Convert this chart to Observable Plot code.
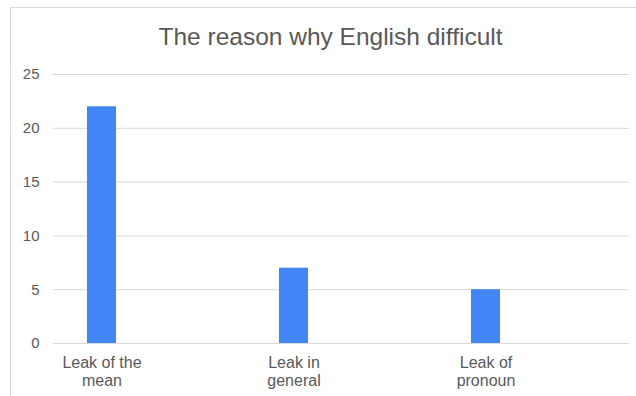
<!DOCTYPE html>
<html>
<head>
<meta charset="utf-8">
<script src="https://cdn.jsdelivr.net/npm/d3@7"></script>
<script src="https://cdn.jsdelivr.net/npm/@observablehq/plot@0.6"></script>
<style>
  html, body { margin: 0; padding: 0; background: #fff; overflow: hidden; width: 636px; height: 396px; }
  #border { position: absolute; left: 10px; top: 7px; width: 700px; height: 500px; border: 1px solid #d9d9d9; box-sizing: border-box; }
  #chart { position: absolute; left: 0; top: 0; }
</style>
</head>
<body>
<div id="border"></div>
<div id="chart"></div>
<script>
const title = "The reason why English difficult";
const categories = ["Leak of the mean", "Leak in general", "Leak of pronoun"];
const tickLabels = ["Leak of the\nmean", "Leak in\ngeneral", "Leak of\npronoun"];
const values = [22, 7, 5];
const yTicks = [0, 5, 10, 15, 20, 25];

const data = categories.map((c, i) => ({category: c, value: values[i]}));

const chart = Plot.plot({
  width: 636,
  height: 396,
  marginTop: 74,
  marginBottom: 53,
  marginLeft: 53,
  marginRight: 7,
  style: {fontFamily: "Liberation Sans, Arial, sans-serif", fontSize: "15px", color: "#595959", background: "transparent"},
  x: {domain: categories, range: [5.5, 581.5], paddingInner: 0.849, paddingOuter: 0.4245, label: null},
  y: {domain: [0, 25], label: null},
  marks: [
    Plot.ruleY(yTicks, {stroke: "#d9d9d9", strokeWidth: 1}),
    Plot.barY(data, {x: "category", y: "value", fill: "#4285F4"}),
    Plot.axisY({ticks: yTicks, tickSize: 0, tickPadding: 14, label: null, fill: "#595959", fontSize: 15}),
    Plot.axisX({tickSize: 0, tickPadding: 12, label: null, fill: "#595959", fontSize: 16,
      tickFormat: d => tickLabels[categories.indexOf(d)], lineHeight: 1.12}),
    Plot.text([title], {frameAnchor: "top", lineAnchor: "middle", dy: -37, dx: -11, fontSize: 24.5, fill: "#595959"})
  ]
});
document.getElementById("chart").appendChild(chart);
</script>
</body>
</html>
